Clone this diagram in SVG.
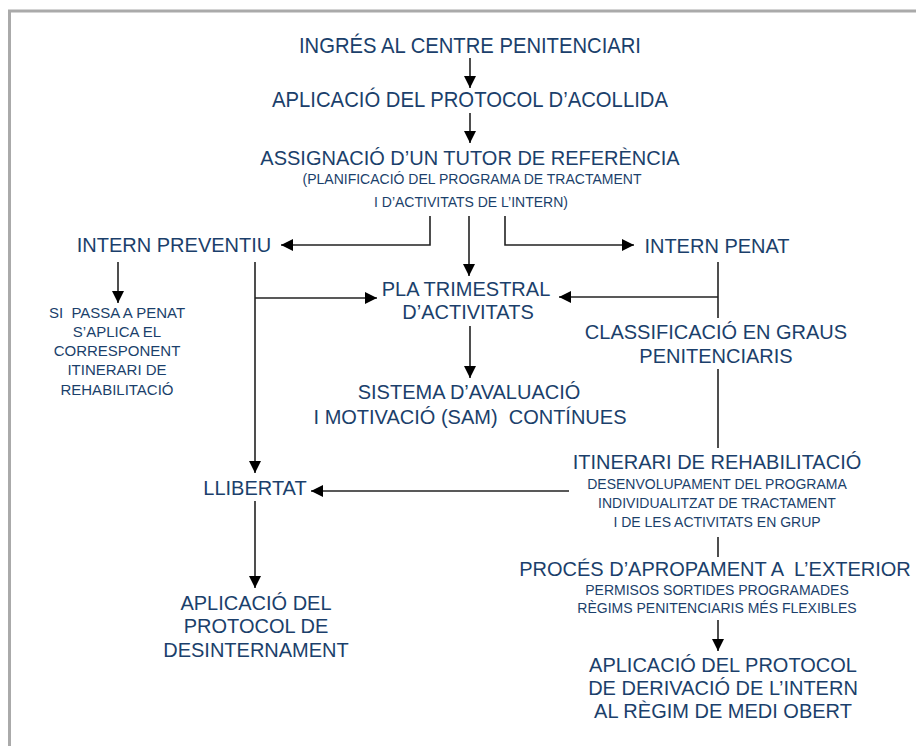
<svg xmlns="http://www.w3.org/2000/svg" width="916" height="746" viewBox="0 0 916 746">
<style>
text{font-family:"Liberation Sans",Arial,sans-serif;fill:#1b3f6b;text-anchor:middle;white-space:pre}
.m{font-size:20px}
.n{font-size:22px}
.s{font-size:14px}
.p{font-size:15px}
.c{fill:none;stroke:#222;stroke-width:1.6}
</style>
<defs>
<marker id="ah" markerUnits="userSpaceOnUse" markerWidth="13" markerHeight="12" refX="12" refY="6" orient="auto">
<path d="M0,0 L12,6 L0,12 z" fill="#000"/>
</marker>
</defs>
<rect x="9.5" y="11" width="1000" height="1000" fill="#fff" stroke="#aaa" stroke-width="3"/>
<g id="connectors">
<path class="c" d="M470,58 V88" marker-end="url(#ah)"/>
<path class="c" d="M470,113 V143" marker-end="url(#ah)"/>
<path class="c" d="M430,216 V245 H281" marker-end="url(#ah)"/>
<path class="c" d="M469,216 V276" marker-end="url(#ah)"/>
<path class="c" d="M505,216 V245 H634" marker-end="url(#ah)"/>
<path class="c" d="M118,262 V303" marker-end="url(#ah)"/>
<path class="c" d="M255,262 V473" marker-end="url(#ah)"/>
<path class="c" d="M255,298 H377" marker-end="url(#ah)"/>
<path class="c" d="M718,262 V318"/>
<path class="c" d="M718,297 H559" marker-end="url(#ah)"/>
<path class="c" d="M470,326 V378" marker-end="url(#ah)"/>
<path class="c" d="M718,369 V448"/>
<path class="c" d="M569,491 H311" marker-end="url(#ah)"/>
<path class="c" d="M718,537 V557"/>
<path class="c" d="M718,620 V651" marker-end="url(#ah)"/>
<path class="c" d="M255,501 V588" marker-end="url(#ah)"/>
</g>
<g id="ingres"><text class="n" x="470" y="53" textLength="342" lengthAdjust="spacingAndGlyphs">INGRÉS AL CENTRE PENITENCIARI</text></g>
<g id="acollida"><text class="n" x="470" y="107" textLength="396" lengthAdjust="spacingAndGlyphs">APLICACIÓ DEL PROTOCOL D’ACOLLIDA</text></g>
<g id="tutor">
<text class="m" x="470" y="165">ASSIGNACIÓ D’UN TUTOR DE REFERÈNCIA</text>
<text class="s" x="472" y="184">(PLANIFICACIÓ DEL PROGRAMA DE TRACTAMENT</text>
<text class="s" x="471" y="207">I D’ACTIVITATS DE L’INTERN)</text>
</g>
<g id="preventiu"><text class="m" x="174" y="252">INTERN PREVENTIU</text></g>
<g id="penat"><text class="m" x="717" y="253">INTERN PENAT</text></g>
<g id="sipassa">
<text class="p" x="117" y="318" xml:space="preserve">SI  PASSA A PENAT</text>
<text class="p" x="117" y="337">S’APLICA EL</text>
<text class="p" x="117" y="356">CORRESPONENT</text>
<text class="p" x="117" y="375">ITINERARI DE</text>
<text class="p" x="117" y="395">REHABILITACIÓ</text>
</g>
<g id="pla">
<text class="m" x="466" y="296">PLA TRIMESTRAL</text>
<text class="m" x="468" y="319">D’ACTIVITATS</text>
</g>
<g id="sam">
<text class="m" x="469" y="399">SISTEMA D’AVALUACIÓ</text>
<text class="m" x="470" y="424" xml:space="preserve">I MOTIVACIÓ (SAM)  CONTÍNUES</text>
</g>
<g id="classificacio">
<text class="m" x="716" y="339">CLASSIFICACIÓ EN GRAUS</text>
<text class="m" x="716" y="363">PENITENCIARIS</text>
</g>
<g id="itinerari">
<text class="m" x="717" y="469">ITINERARI DE REHABILITACIÓ</text>
<text class="s" x="717" y="489">DESENVOLUPAMENT DEL PROGRAMA</text>
<text class="s" x="717" y="508">INDIVIDUALITZAT DE TRACTAMENT</text>
<text class="s" x="717" y="527">I DE LES ACTIVITATS EN GRUP</text>
</g>
<g id="proces">
<text class="m" x="715" y="576" xml:space="preserve">PROCÉS D’APROPAMENT A  L’EXTERIOR</text>
<text class="s" x="717" y="595">PERMISOS SORTIDES PROGRAMADES</text>
<text class="s" x="717" y="613">RÈGIMS PENITENCIARIS MÉS FLEXIBLES</text>
</g>
<g id="derivacio">
<text class="m" x="723" y="672">APLICACIÓ DEL PROTOCOL</text>
<text class="m" x="723" y="695">DE DERIVACIÓ DE L’INTERN</text>
<text class="m" x="723" y="718">AL RÈGIM DE MEDI OBERT</text>
</g>
<g id="llibertat"><text class="m" x="255" y="495">LLIBERTAT</text></g>
<g id="desinternament">
<text class="m" x="256" y="610">APLICACIÓ DEL</text>
<text class="m" x="256" y="633">PROTOCOL DE</text>
<text class="m" x="256" y="657">DESINTERNAMENT</text>
</g>
</svg>
